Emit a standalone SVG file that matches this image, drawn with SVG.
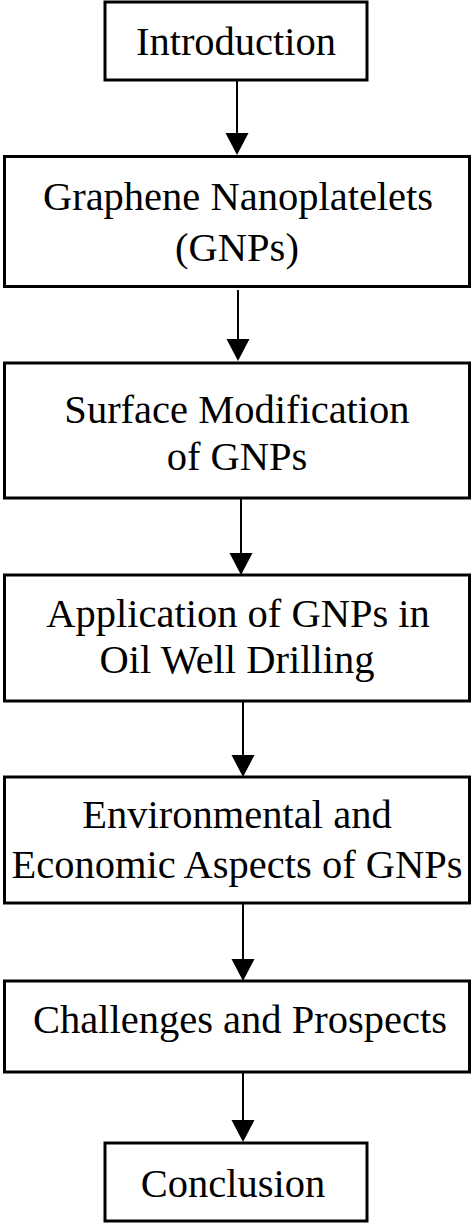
<svg xmlns="http://www.w3.org/2000/svg" width="473" height="1224" viewBox="0 0 473 1224">
<defs>
<style>
.box{fill:#fff;stroke:#000;stroke-width:3}
.t{font-family:'Liberation Serif','DejaVu Serif',serif;font-size:40.5px;fill:#000;text-anchor:middle}
.c{stroke:#000;stroke-width:2;fill:none}
.h{fill:#000}
</style>
</defs>
<rect width="473" height="1224" fill="#fff"/>
<g id="connectors">
<line class="c" x1="237" y1="80" x2="237" y2="134"/>
<path class="h" d="M225.5,133 L248.5,133 L237,155 Z"/>
<line class="c" x1="238" y1="290" x2="238" y2="340"/>
<path class="h" d="M226.5,339 L249.5,339 L238,361 Z"/>
<line class="c" x1="241" y1="498" x2="241" y2="554"/>
<path class="h" d="M229.5,553 L252.5,553 L241,575 Z"/>
<line class="c" x1="243" y1="702" x2="243" y2="756"/>
<path class="h" d="M231.5,755 L254.5,755 L243,777 Z"/>
<line class="c" x1="243" y1="904" x2="243" y2="960"/>
<path class="h" d="M231.5,959 L254.5,959 L243,981 Z"/>
<line class="c" x1="243" y1="1073" x2="243" y2="1121"/>
<path class="h" d="M231.5,1120 L254.5,1120 L243,1142 Z"/>
</g>
<g id="introduction">
<rect class="box" x="105" y="2" width="262" height="78"/>
<text class="t" x="236" y="55">Introduction</text>
</g>
<g id="gnps">
<rect class="box" x="4.5" y="156.5" width="465" height="130"/>
<text class="t" x="238" y="210">Graphene Nanoplatelets</text>
<text class="t" x="237" y="261">(GNPs)</text>
</g>
<g id="surface">
<rect class="box" x="4.5" y="363" width="465" height="135"/>
<text class="t" x="237" y="423">Surface Modification</text>
<text class="t" x="237" y="470">of GNPs</text>
</g>
<g id="application">
<rect class="box" x="4.5" y="575" width="465" height="126"/>
<text class="t" x="238" y="627">Application of GNPs in</text>
<text class="t" x="237" y="673">Oil Well Drilling</text>
</g>
<g id="environmental">
<rect class="box" x="4.5" y="777" width="465" height="126"/>
<text class="t" x="237" y="828">Environmental and</text>
<text class="t" x="237" y="878">Economic Aspects of GNPs</text>
</g>
<g id="challenges">
<rect class="box" x="4.5" y="981" width="465" height="91"/>
<text class="t" x="240" y="1033">Challenges and Prospects</text>
</g>
<g id="conclusion">
<rect class="box" x="105" y="1143" width="262" height="78"/>
<text class="t" x="233" y="1197">Conclusion</text>
</g>
</svg>
